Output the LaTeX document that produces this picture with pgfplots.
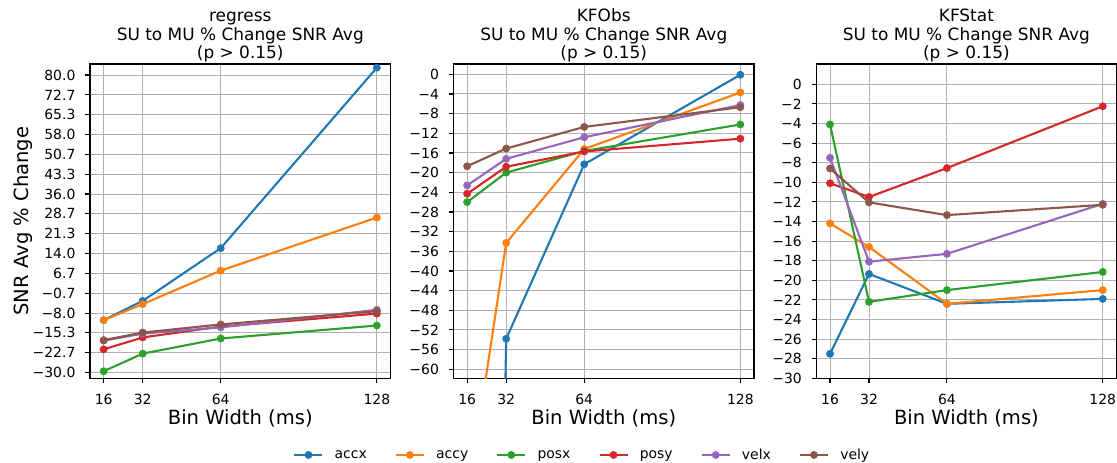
\documentclass[border=0pt]{standalone}
\usepackage{fontspec}
\setmainfont{DejaVu Sans}
\usepackage{pgfplots}
\pgfplotsset{compat=1.18}
\definecolor{c0}{HTML}{1F77B4}
\definecolor{c1}{HTML}{FF7F0E}
\definecolor{c2}{HTML}{2CA02C}
\definecolor{c3}{HTML}{D62728}
\definecolor{c4}{HTML}{9467BD}
\definecolor{c5}{HTML}{8C564B}
\definecolor{gridgray}{HTML}{B0B0B0}
\pgfplotsset{
  base/.style={
    scale only axis,
    height=314.3bp,
    xmin=10.4, xmax=133.6,
    xtick={16,32,64,128},
    xticklabels={16,32,64,128},
    tick pos=left,
    tick align=outside,
    major tick length=4.9bp,
    tick style={black, line width=1.1bp},
    axis line style={black, line width=1.1bp},
    grid=major,
    major grid style={color=gridgray, line width=1bp},
    tick label style={font=\fontsize{14}{16}\selectfont},
    xticklabel style={inner sep=0pt, anchor=north, yshift=-11bp},
    yticklabel style={inner sep=0pt, anchor=east, xshift=-9.5bp},
    title style={at={(axis description cs:0.5,1)}, anchor=south, yshift=-4.5bp, align=center, inner sep=0pt, font=\fontsize{17}{18.6}\selectfont},
    xlabel style={at={(axis description cs:0.5,-0.1465)}, anchor=base, inner sep=0pt, font=\fontsize{19.6}{22}\selectfont},
    xlabel={Bin Width (ms)},
    every axis plot/.append style={line width=2.1bp, mark=*, mark size=3.6bp, mark options={solid, line width=0.6bp}},
    legend image code/.code={\draw[mark repeat=2,mark phase=2,#1] plot coordinates {(0bp,0bp) (14bp,0bp) (28bp,0bp)};},
  }
}
\begin{document}
\begin{tikzpicture}
\path[use as bounding box] (0,0) rectangle (1117bp,463bp);
% ---------------- regress ----------------
\begin{axis}[base,
  at={(90bp,84.7bp)}, anchor=south west, width=300.5bp,
  ymin=-32.11, ymax=84.07,
  ytick={-30,-22.6667,-15.3333,-8,-0.6667,6.6667,14,21.3333,28.6667,36,43.3333,50.6667,58,65.3333,72.6667,80},
  yticklabels={−30.0,−22.7,−15.3,−8.0,−0.7,6.7,14.0,21.3,28.7,36.0,43.3,50.7,58.0,65.3,72.7,80.0},
  title={regress\\SU to MU \% Change SNR Avg\\(p > 0.15)},
  ylabel={SNR Avg \% Change},
  ylabel style={at={(axis description cs:-0.2057,0.5)}, anchor=base, rotate=0, inner sep=0pt, font=\fontsize{19.6}{22}\selectfont},
]
\addplot[c0] coordinates {(16,-10.6) (32,-3.5) (64,16.0) (128,82.7)};
\addplot[c1] coordinates {(16,-10.6) (32,-4.7) (64,7.7) (128,27.3)};
\addplot[c2] coordinates {(16,-29.5) (32,-23.0) (64,-17.4) (128,-12.6)};
\addplot[c3] coordinates {(16,-21.4) (32,-17.0) (64,-13.0) (128,-8.2)};
\addplot[c4] coordinates {(16,-18.2) (32,-15.6) (64,-13.3) (128,-6.8)};
\addplot[c5] coordinates {(16,-18.0) (32,-15.2) (64,-12.2) (128,-7.3)};
\end{axis}
% ---------------- KFObs ----------------
\begin{axis}[base,
  at={(453.5bp,84.7bp)}, anchor=south west, width=300.5bp,
  ymin=-61.83, ymax=2.1,
  ytick={-60,-56,-52,-48,-44,-40,-36,-32,-28,-24,-20,-16,-12,-8,-4,0},
  yticklabels={−60,−56,−52,−48,−44,−40,−36,−32,−28,−24,−20,−16,−12,−8,−4,0},
  title={KFObs\\SU to MU \% Change SNR Avg\\(p > 0.15)},
  legend columns=6,
  legend style={at={(axis description cs:-0.5328,-0.244)}, anchor=west, draw=none, fill=none, inner sep=0pt, outer sep=0pt,
    font=\fontsize{14}{16}\selectfont, nodes={inner sep=0pt},
    /tikz/every odd column/.style={column sep=11.2bp},
    /tikz/every even column/.style={column sep=28bp}},
]
\addplot[c0] coordinates {(16,-480) (32,-53.8) (64,-18.3) (128,-0.1)};
\addplot[c1] coordinates {(16,-87) (32,-34.3) (64,-15.2) (128,-3.7)};
\addplot[c2] coordinates {(16,-26.0) (32,-20.0) (64,-15.6) (128,-10.2)};
\addplot[c3] coordinates {(16,-24.3) (32,-18.8) (64,-15.7) (128,-13.1)};
\addplot[c4] coordinates {(16,-22.6) (32,-17.2) (64,-12.8) (128,-6.25)};
\addplot[c5] coordinates {(16,-18.7) (32,-15.1) (64,-10.7) (128,-6.7)};
\legend{accx,accy,posx,posy,velx,vely}
\end{axis}
% ---------------- KFStat ----------------
\begin{axis}[base,
  at={(816.4bp,84.7bp)}, anchor=south west, width=300bp,
  ymin=-30, ymax=2.07,
  ytick={-30,-28,-26,-24,-22,-20,-18,-16,-14,-12,-10,-8,-6,-4,-2,0},
  yticklabels={−30,−28,−26,−24,−22,−20,−18,−16,−14,−12,−10,−8,−6,−4,−2,0},
  title={KFStat\\SU to MU \% Change SNR Avg\\(p > 0.15)},
]
\addplot[c0] coordinates {(16,-27.5) (32,-19.35) (64,-22.4) (128,-21.9)};
\addplot[c1] coordinates {(16,-14.2) (32,-16.6) (64,-22.4) (128,-21.0)};
\addplot[c2] coordinates {(16,-4.1) (32,-22.2) (64,-21.0) (128,-19.15)};
\addplot[c3] coordinates {(16,-10.1) (32,-11.5) (64,-8.55) (128,-2.24)};
\addplot[c4] coordinates {(16,-7.5) (32,-18.1) (64,-17.3) (128,-12.2)};
\addplot[c5] coordinates {(16,-8.6) (32,-12.05) (64,-13.35) (128,-12.3)};
\end{axis}
\end{tikzpicture}
\end{document}
